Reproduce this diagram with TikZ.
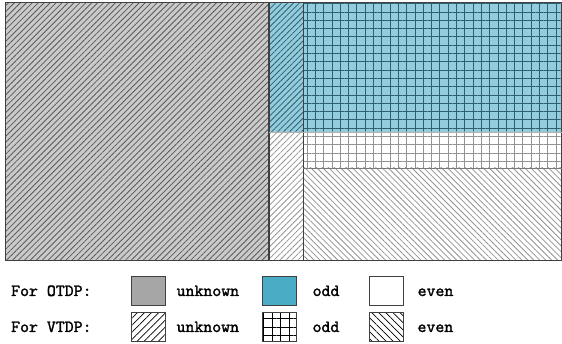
\documentclass[tikz,border=0pt]{standalone}
\usepackage{fontspec}
\newfontfamily\legendfont[FakeBold=1.6]{lmmono10-regular.otf}
\usetikzlibrary{patterns.meta, positioning}
\definecolor{otdpblue}{RGB}{75, 172, 198}
\definecolor{otdpgray}{RGB}{166, 166, 166}
\definecolor{edgegray}{RGB}{64, 64, 64}
\definecolor{hatchblue}{RGB}{45, 95, 110}

\begin{document}
\begin{tikzpicture}[x=1pt, y=1pt,
  neline/.style={pattern={Lines[angle=45, distance=4.2pt, line width=0.8pt]}},
  nwline/.style={pattern={Lines[angle=-45, distance=4.2pt, line width=0.8pt]}},
  gridline/.style={pattern={Hatch[angle=0, distance=8.3pt, line width=0.9pt]}},
  lgbox/.style={draw=edgegray, line width=0.9pt, minimum width=34pt, minimum height=29pt, inner sep=0pt},
  lgtext/.style={anchor=west, inner sep=0pt, text height=10pt, text depth=0pt,
    font=\legendfont\fontsize{17}{20}\selectfont}
]
  \useasboundingbox (0,0) rectangle (562,344);

  % unknown in both
  \path[fill=otdpgray!60, postaction={neline, pattern color=gray!70!black}] (5,83) rectangle (269,341);
  % OTDP odd, VTDP unknown
  \path[fill=otdpblue!60, postaction={neline, pattern color=hatchblue}] (269,212) rectangle (303,341);
  % OTDP even, VTDP unknown
  \path[postaction={neline, pattern color=gray!85}] (269,83) rectangle (303,212);
  % odd in both
  \path[fill=otdpblue!60, postaction={gridline, pattern color=hatchblue}] (303,212) rectangle (561,341);
  % OTDP even, VTDP odd
  \path[postaction={gridline, pattern color=gray!85}] (303,176) rectangle (561,212);
  % even in both
  \path[postaction={nwline, pattern color=gray!85}] (303,83) rectangle (561,176);

  % borders
  \draw[edgegray, line width=1pt] (5,83) rectangle (561.5,341);
  \draw[edgegray, line width=1.3pt] (269,83) -- (269,341);
  \draw[edgegray, line width=1pt] (303,83) -- (303,341);
  \draw[edgegray!70, line width=0.8pt] (303,176) -- (561.5,176);
  \draw[gray!60, line width=0.6pt] (269,212) -- (561.5,212);

  % legend
  \node[lgtext] (otdp) at (11,53) {For OTDP:};
  \node[lgtext] (vtdp) at (11,17) {For VTDP:};

  \node[lgbox, fill=otdpgray] (ounk) at (148,53) {};
  \node[lgbox, fill=otdpblue] (oodd) at (279,53) {};
  \node[lgbox, fill=white] (oeven) at (386,53) {};
  \node[lgtext, right=11pt of ounk] (ounktxt) {unknown};
  \node[lgtext, right=16pt of oodd] (ooddtxt) {odd};
  \node[lgtext, right=14pt of oeven] (oeventxt) {even};

  \node[lgbox, pattern={Lines[angle=45, distance=5pt, line width=0.7pt]}, pattern color=black] (vunk) at (148,17) {};
  \node[lgbox, pattern={Hatch[angle=0, distance=8.5pt, line width=0.8pt]}, pattern color=black] (vodd) at (279,17) {};
  \node[lgbox, pattern={Lines[angle=-45, distance=5pt, line width=0.7pt]}, pattern color=black] (veven) at (386,17) {};
  \node[lgtext, right=11pt of vunk] (vunktxt) {unknown};
  \node[lgtext, right=16pt of vodd] (voddtxt) {odd};
  \node[lgtext, right=14pt of veven] (veventxt) {even};
\end{tikzpicture}
\end{document}
